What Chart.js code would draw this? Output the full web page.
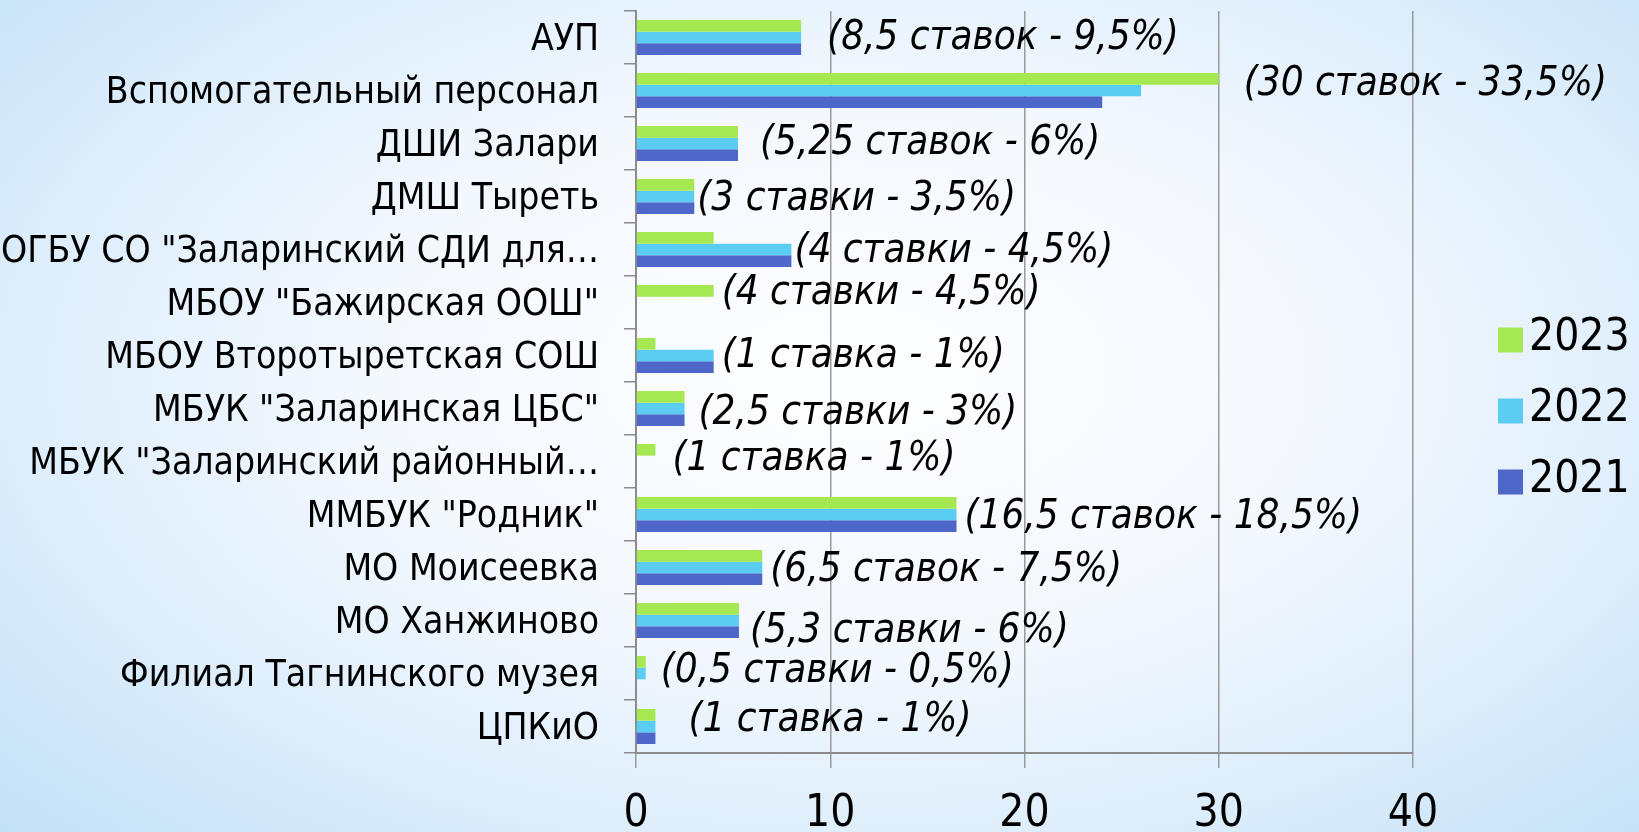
<!DOCTYPE html>
<html><head><meta charset="utf-8">
<script src="https://cdn.jsdelivr.net/npm/chart.js@4"></script>
<style>
html,body{margin:0;padding:0;width:1639px;height:832px;overflow:hidden;}
body{background: radial-gradient(ellipse 72% 80% at 52% 45%, #fdfeff 0%, #f3f8fe 42%, #dcedfb 72%, #c2e0f7 100%);}
#wrap{position:relative;width:1639px;height:832px;}
</style></head><body><div id="wrap"><canvas id="c" width="1639" height="832"></canvas></div>
<script>
const categories = [
  'АУП',
  'Вспомогательный персонал',
  'ДШИ Залари',
  'ДМШ Тыреть',
  'ОГБУ СО "Заларинский СДИ для…',
  'МБОУ "Бажирская ООШ"',
  'МБОУ Второтыретская СОШ',
  'МБУК "Заларинская ЦБС"',
  'МБУК "Заларинский районный…',
  'ММБУК "Родник"',
  'МО Моисеевка',
  'МО Ханжиново',
  'Филиал Тагнинского музея',
  'ЦПКиО'
];
const seriesNames = ['2023', '2022', '2021'];
const values2023 = [8.5, 30, 5.25, 3, 4, 4, 1, 2.5, 1, 16.5, 6.5, 5.3, 0.5, 1];
const values2022 = [8.5, 26, 5.25, 3, 8, null, 4, 2.5, null, 16.5, 6.5, 5.3, 0.5, 1];
const values2021 = [8.5, 24, 5.25, 3, 8, null, 4, 2.5, null, 16.5, 6.5, 5.3, null, 1];
const xTickValues = [0, 10, 20, 30, 40];
const labelTexts = [
  '(8,5 ставок - 9,5%)',
  '(30 ставок - 33,5%)',
  '(5,25 ставок - 6%)',
  '(3 ставки - 3,5%)',
  '(4 ставки - 4,5%)',
  '(4 ставки - 4,5%)',
  '(1 ставка - 1%)',
  '(2,5 ставки - 3%)',
  '(1 ставка - 1%)',
  '(16,5 ставок - 18,5%)',
  '(6,5 ставок - 7,5%)',
  '(5,3 ставки - 6%)',
  '(0,5 ставки - 0,5%)',
  '(1 ставка - 1%)'
];
// layout nudges (px) for the hand-placed value labels: [dx from bar end, dy from category centre]
const labelNudge = [[26,-2.5],[25,-9],[22,-3.5],[3,0],[3,-1.5],[8,-12.5],[8,-2.5],[14,1.5],[17,-5],[8,0],[8,0],[11,7.5],[15,-5.5],[33,-9.5]];

const FONT = '"DejaVu Sans Condensed", "DejaVu Sans", sans-serif';
const colors = ['#A6E852', '#5CCDF2', '#4F67C9'];
const seriesValues = [values2023, values2022, values2021];

const labelPlugin = {
  id: 'valueLabels',
  afterDatasetsDraw(chart) {
    const {ctx, scales: {x, y}} = chart;
    ctx.save();
    ctx.font = 'italic 40px ' + FONT;
    ctx.fillStyle = '#000';
    ctx.textAlign = 'left';
    ctx.textBaseline = 'middle';
    labelTexts.forEach((t, i) => {
      const m = Math.max(...chart.data.datasets.map(d => d.data[i] ?? 0));
      ctx.fillText(t, x.getPixelForValue(m) + labelNudge[i][0], y.getPixelForValue(i) + labelNudge[i][1] + 3.5);
    });
    ctx.restore();
  }
};

const legendPlugin = {
  id: 'sideLegend',
  afterDraw(chart) {
    const {ctx, chartArea: a} = chart;
    ctx.save();
    ctx.font = '44px ' + FONT;
    ctx.textAlign = 'left';
    ctx.textBaseline = 'middle';
    const cy = (a.top + a.bottom) / 2 + 29;
    chart.data.datasets.forEach((d, i) => {
      const yc = cy + (i - 1) * 71;
      ctx.fillStyle = d.backgroundColor;
      ctx.fillRect(a.right + 85, yc - 12.5, 25, 25);
      ctx.fillStyle = '#000';
      ctx.fillText(d.label, a.right + 116, yc - 1);
    });
    ctx.restore();
  }
};

new Chart(document.getElementById('c'), {
  type: 'bar',
  data: {
    labels: categories,
    datasets: seriesNames.map((n, i) => ({
      label: n,
      data: seriesValues[i],
      backgroundColor: colors[i],
      borderWidth: 0,
      categoryPercentage: 0.66,
      barPercentage: 1.0
    }))
  },
  options: {
    indexAxis: 'y',
    responsive: false,
    animation: false,
    devicePixelRatio: 1,
    layout: {padding: {top: 11, right: 226, left: 0, bottom: 0}},
    plugins: {legend: {display: false}, tooltip: {enabled: false}},
    scales: {
      x: {
        min: 0, max: 40,
        afterBuildTicks(s) { s.ticks = xTickValues.map(v => ({value: v})); },
        grid: {color: '#9a9a9a', lineWidth: 1.5, tickLength: 15},
        border: {color: '#8c8c8c', width: 2},
        ticks: {font: {family: FONT, size: 44}, color: '#000', padding: 20},
        afterFit(s) { s.height = 79; s.paddingLeft = 0; s.paddingRight = 0; }
      },
      y: {
        grid: {drawOnChartArea: false, tickLength: 12, color: '#8c8c8c', lineWidth: 1.5},
        border: {color: '#8c8c8c', width: 2},
        ticks: {font: {family: FONT, size: 37}, color: '#000', padding: 25, autoSkip: false, labelOffset: 3},
        afterFit(s) { s.width = 636; s.paddingTop = 0; s.paddingBottom = 0; }
      }
    }
  },
  plugins: [labelPlugin, legendPlugin]
});
</script></body></html>
